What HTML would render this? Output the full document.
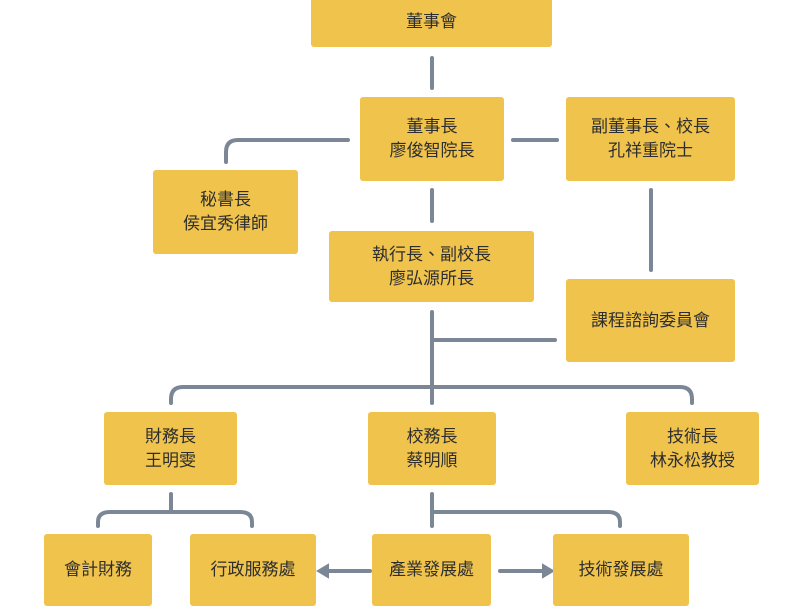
<!DOCTYPE html>
<html><head><meta charset="utf-8"><style>
body{margin:0;width:800px;height:600px;background:#fff;position:relative;overflow:hidden;font-family:"Liberation Sans","Noto Sans CJK TC",sans-serif}
.b{position:absolute;background:#EFC34C;border-radius:3px;display:flex;align-items:center;justify-content:center;text-align:center;font-size:17px;line-height:24px;color:#2e2e2e}
svg{position:absolute;left:0;top:0}
</style></head><body>
<svg width="800" height="600" fill="none" stroke="#7b8795" stroke-width="4" stroke-linecap="round">
<path d="M432 58V88"/>
<path d="M348 140H238Q226 140 226 152V162"/>
<path d="M513 140H557"/>
<path d="M432 190V221"/>
<path d="M651 190V270"/>
<path d="M432 312V387M432 340H555"/>
<path d="M171 403V399Q171 387 183 387H680Q692 387 692 399V403M432 387V403"/>
<path d="M171 494V512M98 526V522Q98 512 110 512H240Q252 512 252 522V526"/>
<path d="M432 494V526M432 512H608Q620 512 620 522V526"/>
<path d="M370 571H324M500 571H546"/>
<path d="M328 565L318 571L328 577Z" fill="#7b8795" stroke-width="2"/>
<path d="M543 565L553 571L543 577Z" fill="#7b8795" stroke-width="2"/>
</svg>
<div class="b" style="left:311px;top:-4px;width:241px;height:51px">董事會</div>
<div class="b" style="left:360px;top:97px;width:144px;height:84px">董事長<br>廖俊智院長</div>
<div class="b" style="left:566px;top:97px;width:169px;height:84px">副董事長、校長<br>孔祥重院士</div>
<div class="b" style="left:153px;top:170px;width:145px;height:84px">秘書長<br>侯宜秀律師</div>
<div class="b" style="left:329px;top:231px;width:205px;height:71px">執行長、副校長<br>廖弘源所長</div>
<div class="b" style="left:566px;top:279px;width:169px;height:83px">課程諮詢委員會</div>
<div class="b" style="left:104px;top:412px;width:133px;height:73px">財務長<br>王明雯</div>
<div class="b" style="left:368px;top:412px;width:128px;height:73px">校務長<br>蔡明順</div>
<div class="b" style="left:626px;top:412px;width:133px;height:73px">技術長<br>林永松教授</div>
<div class="b" style="left:44px;top:534px;width:108px;height:72px">會計財務</div>
<div class="b" style="left:190px;top:534px;width:126px;height:72px">行政服務處</div>
<div class="b" style="left:372px;top:534px;width:119px;height:72px">產業發展處</div>
<div class="b" style="left:553px;top:534px;width:136px;height:72px">技術發展處</div>
</body></html>
